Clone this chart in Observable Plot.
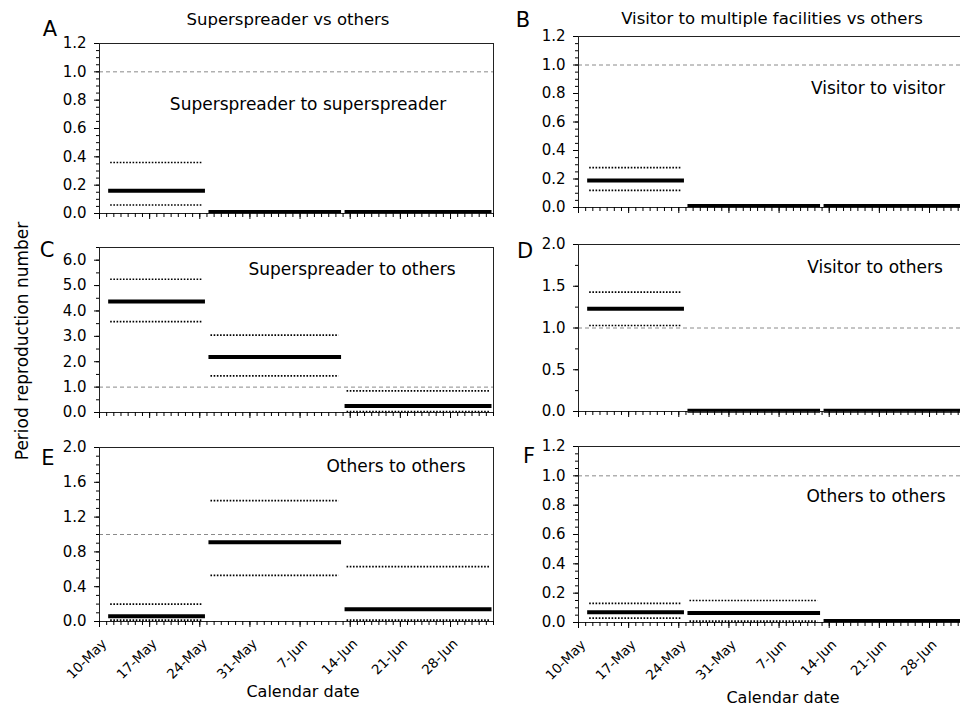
<!DOCTYPE html>
<html><head><meta charset="utf-8">
<script src="https://cdn.jsdelivr.net/npm/d3@7"></script>
<script src="https://cdn.jsdelivr.net/npm/@observablehq/plot@0.6"></script>
<style>
html,body{margin:0;padding:0;background:#fff;overflow:hidden;}
#chart{position:relative;width:960px;height:708px;overflow:hidden;font-family:"DejaVu Sans",sans-serif;background:#fff;}
.panel{position:absolute;}
#overlay{position:absolute;left:0;top:0;pointer-events:none;}
</style></head><body><div id="chart"></div>
<script>
// ---------- data ----------
const axisStart = "2020-05-10";
const axisEnd = "2020-07-04";
const periodStart = ["2020-05-11", "2020-05-25", "2020-06-13"];
const periodEnd   = ["2020-05-25", "2020-06-13", "2020-07-04"];
const weekTickDates  = ["2020-05-10","2020-05-17","2020-05-24","2020-05-31","2020-06-07","2020-06-14","2020-06-21","2020-06-28"];
const weekTickLabels = ["10-May","17-May","24-May","31-May","7-Jun","14-Jun","21-Jun","28-Jun"];

const columnTitles = ["Superspreader vs others", "Visitor to multiple facilities vs others"];
const panelLetters = ["A", "B", "C", "D", "E", "F"];
const panelLabels = ["Superspreader to superspreader", "Visitor to visitor", "Superspreader to others", "Visitor to others", "Others to others", "Others to others"];
const yAxisTitle = "Period reproduction number";
const xAxisTitle = "Calendar date";

// A: superspreader to superspreader
const meanA = [0.16, 0.01, 0.01];
const lowA  = [0.06, null, null];
const highA = [0.36, null, null];
// B: visitor to visitor
const meanB = [0.19, 0.01, 0.01];
const lowB  = [0.12, null, null];
const highB = [0.28, null, null];
// C: superspreader to others
const meanC = [4.37, 2.19, 0.26];
const lowC  = [3.58, 1.44, 0.04];
const highC = [5.25, 3.05, 0.85];
// D: visitor to others
const meanD = [1.23, 0.01, 0.01];
const lowD  = [1.03, null, null];
const highD = [1.43, null, null];
// E: others to others (superspreader model)
const meanE = [0.06, 0.91, 0.14];
const lowE  = [0.015, 0.53, 0.015];
const highE = [0.20, 1.39, 0.63];
// F: others to others (visitor model)
const meanF = [0.07, 0.065, 0.01];
const lowF  = [0.03, 0.01, null];
const highF = [0.13, 0.15, null];

// y-axis tick values
const ticksA = [0, 0.2, 0.4, 0.6, 0.8, 1.0, 1.2];
const ticksB = [0, 0.2, 0.4, 0.6, 0.8, 1.0, 1.2];
const ticksC = [0, 1, 2, 3, 4, 5, 6];
const ticksD = [0, 0.5, 1.0, 1.5, 2.0];
const ticksE = [0, 0.4, 0.8, 1.2, 1.6, 2.0];
const ticksF = [0, 0.2, 0.4, 0.6, 0.8, 1.0, 1.2];
const yMaxes = [1.2, 1.2, 6.5, 2.0, 2.0, 1.2];
const minorSteps = [0.05, 0.05, 0.5, 0.25, 0.1, 0.05];
const threshold = [1];

// ---------- layout ----------
const FONT = '"DejaVu Sans", sans-serif';
const frames = [
  {x: 99,  y: 43,  w: 394, h: 170, bottom: false},
  {x: 578, y: 36,  w: 394, h: 171, bottom: false},
  {x: 99,  y: 247, w: 394, h: 165, bottom: false},
  {x: 578, y: 244, w: 394, h: 167, bottom: false},
  {x: 99,  y: 447, w: 394, h: 174, bottom: true},
  {x: 578, y: 446, w: 394, h: 176, bottom: true}
];
const series = [
  [meanA, lowA, highA, ticksA], [meanB, lowB, highB, ticksB],
  [meanC, lowC, highC, ticksC], [meanD, lowD, highD, ticksD],
  [meanE, lowE, highE, ticksE], [meanF, lowF, highF, ticksF]
];

const chart = document.getElementById("chart");
const x0 = new Date(axisStart), x1 = new Date(axisEnd);
const dayTicks = d3.utcDay.range(x0, d3.utcDay.offset(x1, 1));
const weekTicks = weekTickDates.map(d => new Date(d));

function rows(vals) {
  return periodStart.map((s, i) => ({x1: new Date(s), x2: new Date(periodEnd[i]), y: vals[i]}))
    .filter(d => d.y != null);
}

series.forEach(([mean, low, high, major], i) => {
  const f = frames[i];
  const mL = 60, mR = 6, mT = 6, mB = f.bottom ? 80 : 12;
  const yMax = yMaxes[i], step = minorSteps[i];
  const minor = d3.range(0, Math.round(yMax / step) + 1).map(k => +(k * step).toFixed(3));
  const marks = [
    Plot.ruleY(threshold, {stroke: "#8a8a8a", strokeWidth: 1, strokeDasharray: "4,3"}),
    Plot.ruleY(rows(low),  {x1: "x1", x2: "x2", y: "y", stroke: "#000", strokeWidth: 1.7, strokeDasharray: "1.6,1.6", insetLeft: 4, insetRight: 4}),
    Plot.ruleY(rows(high), {x1: "x1", x2: "x2", y: "y", stroke: "#000", strokeWidth: 1.7, strokeDasharray: "1.6,1.6", insetLeft: 4, insetRight: 4}),
    Plot.ruleY(rows(mean), {x1: "x1", x2: "x2", y: "y", stroke: "#000", strokeWidth: 4, insetLeft: 2, insetRight: 1.5}),
    Plot.frame({stroke: "#222", strokeWidth: 1}),
    Plot.axisY(minor, {tickSize: 3, tickFormat: () => "", label: null, strokeWidth: 1}),
    Plot.axisY(major, {tickSize: 5, tickPadding: 8, tickFormat: d => d.toFixed(1), label: null, fontSize: 15}),
    Plot.axisX(dayTicks, {tickSize: 4, tickFormat: () => "", label: null, strokeWidth: 1}),
    Plot.axisX(weekTicks, {tickSize: 6, tickFormat: () => "", label: null})
  ];
  if (f.bottom) {
    marks.push(Plot.text(weekTicks, {
      x: d => d, text: (d, k) => weekTickLabels[k], frameAnchor: "bottom",
      rotate: -45, textAnchor: "end", dx: 8, dy: 23, fontSize: 13.5
    }));
  }
  const svg = Plot.plot({
    width: mL + f.w + mR, height: mT + f.h + mB,
    marginLeft: mL, marginRight: mR, marginTop: mT, marginBottom: mB,
    style: {fontFamily: FONT, fontSize: "15px", color: "#000", background: "transparent", maxWidth: "none", overflow: "visible"},
    x: {type: "utc", domain: [x0, x1]},
    y: {domain: [0, yMax]},
    marks
  });
  const div = document.createElement("div");
  div.className = "panel";
  div.style.left = (f.x - mL) + "px";
  div.style.top = (f.y - mT) + "px";
  div.appendChild(svg);
  chart.appendChild(div);
});

// ---------- overlay text ----------
const ov = d3.select(chart).append("svg").attr("id", "overlay")
  .attr("width", 960).attr("height", 708)
  .style("font-family", FONT);

const letterPos = [[50, 36], [523, 27], [47, 257], [525, 258], [48, 465], [529, 463]];
panelLetters.forEach((t, i) => ov.append("text").attr("x", letterPos[i][0]).attr("y", letterPos[i][1])
  .attr("text-anchor", "middle").attr("font-size", 21).text(t));

const titlePos = [[288, 25], [772, 24]];
columnTitles.forEach((t, i) => ov.append("text").attr("x", titlePos[i][0]).attr("y", titlePos[i][1])
  .attr("text-anchor", "middle").attr("font-size", 16.5).text(t));

const labelPos = [[308, 110], [878, 94], [352, 275], [875, 273], [396, 472], [876, 502]];
panelLabels.forEach((t, i) => ov.append("text").attr("x", labelPos[i][0]).attr("y", labelPos[i][1])
  .attr("text-anchor", "middle").attr("font-size", 17).text(t));

ov.append("text").attr("transform", "translate(28,341) rotate(-90)")
  .attr("text-anchor", "middle").attr("font-size", 17).text(yAxisTitle);

[[303, 697], [783, 703]].forEach(p => ov.append("text").attr("x", p[0]).attr("y", p[1])
  .attr("text-anchor", "middle").attr("font-size", 16).text(xAxisTitle));
</script>
</body></html>
